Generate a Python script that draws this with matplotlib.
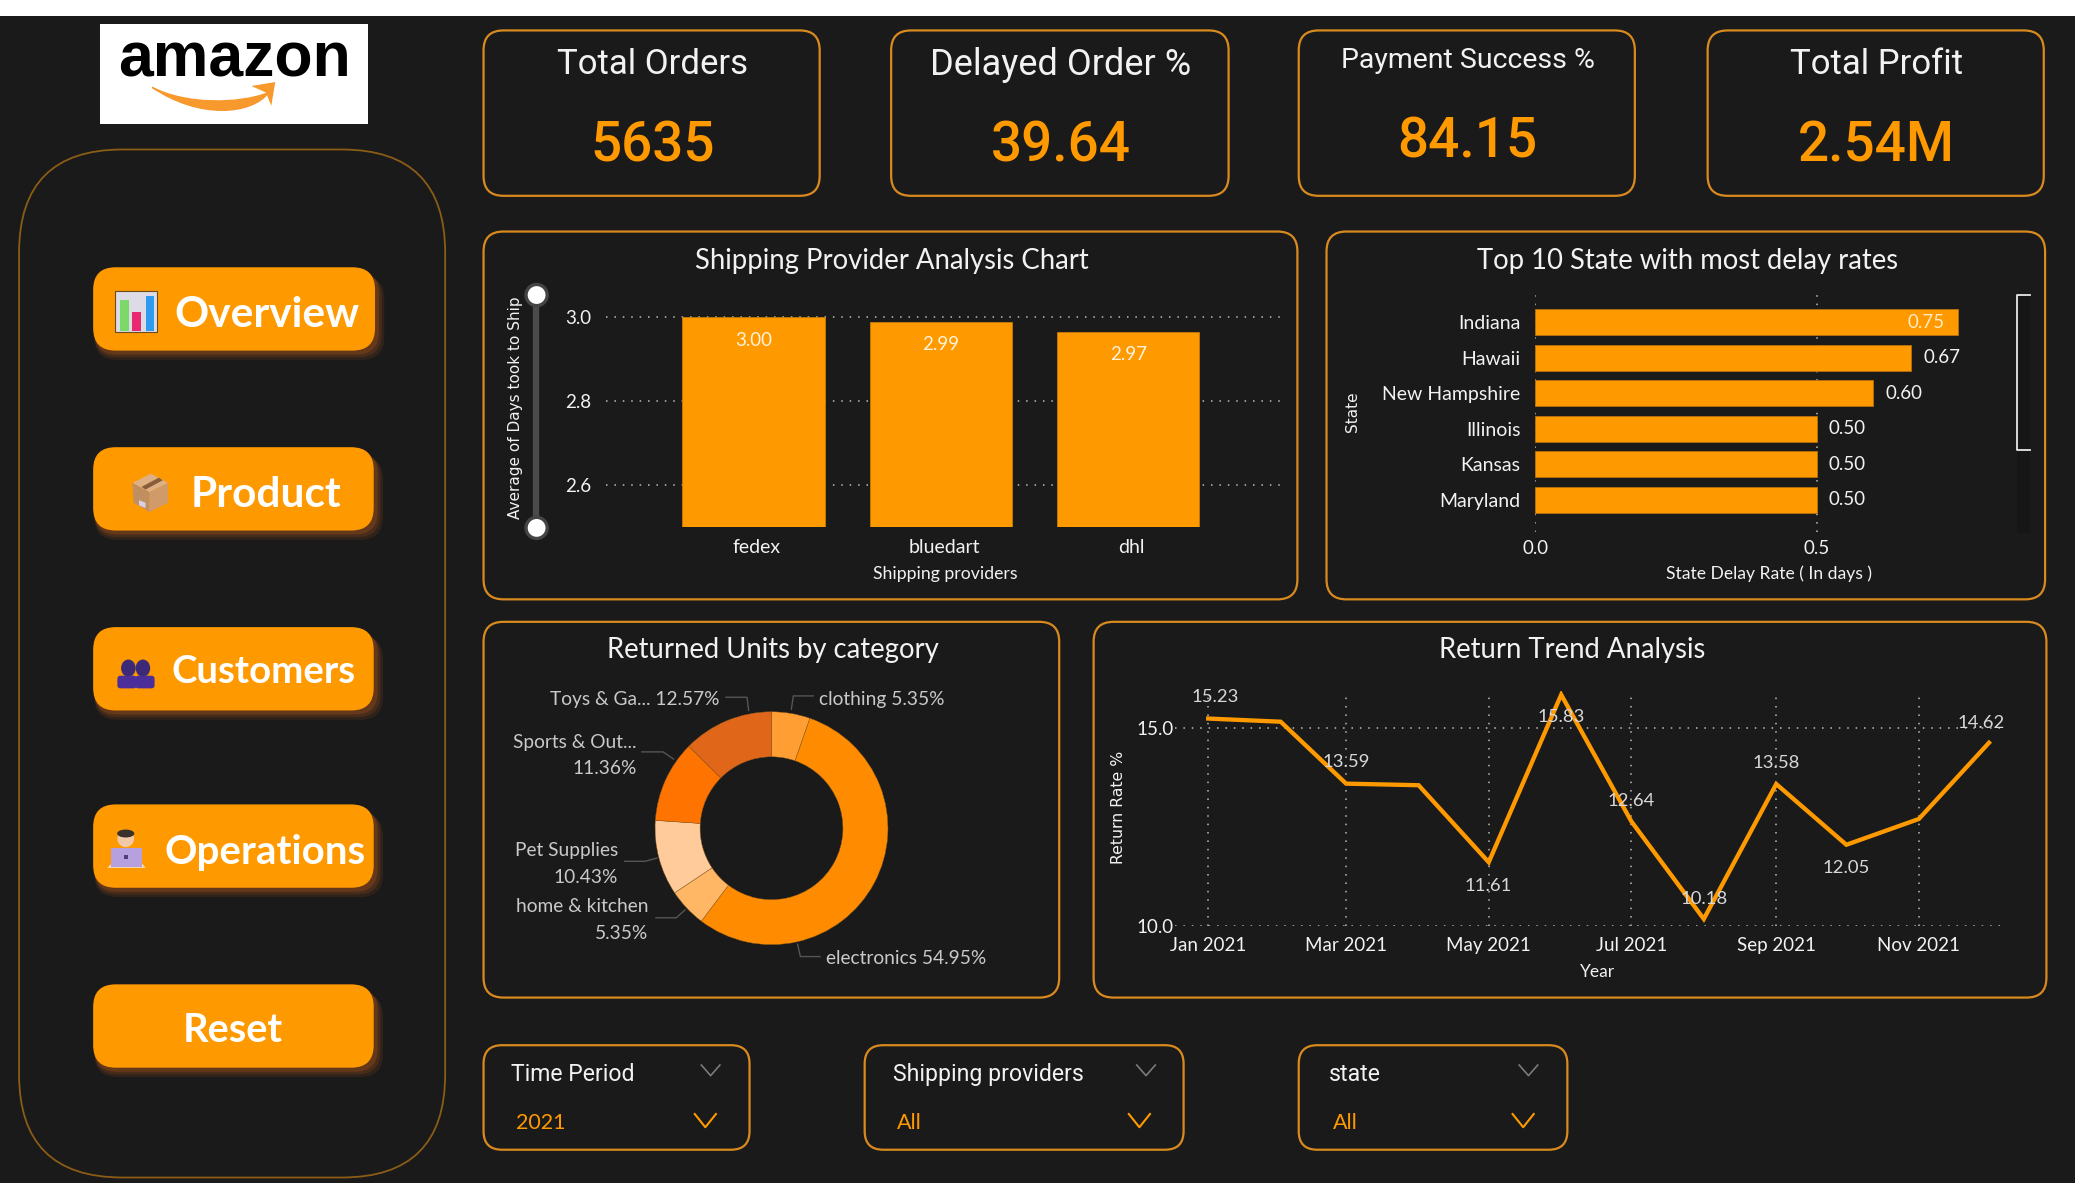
import datetime as dt
import matplotlib
matplotlib.use("Agg")
import matplotlib.pyplot as plt
import matplotlib.dates as mdates
from matplotlib.patches import FancyBboxPatch, Rectangle, Circle, Polygon, PathPatch, Ellipse
from matplotlib.path import Path

# ---- data ----
kpi_titles = ["Total Orders", "Delayed Order %", "Payment Success %", "Total Profit"]
kpi_values = ["5635", "39.64", "84.15", "2.54M"]

providers = ["fedex", "bluedart", "dhl"]
days_to_ship = [3.00, 2.99, 2.966]

states = ["Indiana", "Hawaii", "New Hampshire", "Illinois", "Kansas", "Maryland"]
delay_rates = [0.75, 0.667, 0.60, 0.50, 0.50, 0.50]

categories = ["clothing", "electronics", "home & kitchen", "Pet Supplies", "Sports & Out...", "Toys & Ga..."]
returned_share = [5.35, 54.95, 5.35, 10.43, 11.36, 12.57]
donut_colors = ["#FF9F33", "#FF8C00", "#FFB766", "#FFCB9A", "#FF7300", "#E0661A"]

months = [dt.date(2021, m, 1) for m in range(1, 13)]
return_rate = [15.23, 15.15, 13.59, 13.55, 11.61, 15.83, 12.64, 10.18, 13.58, 12.05, 12.70, 14.62]
labelled = {0: (5, 17), 2: (0, 17), 5: (0, -16), 6: (0, 16), 4: (0, -17), 7: (0, 16),
            8: (0, 17), 9: (0, -17), 11: (-6, 16)}

buttons = ["Overview", "Product", "Customers", "Operations", "Reset"]
slicers = [("Time Period", "2021"), ("Shipping providers", "All"), ("state", "All")]

# ---- style ----
W, H = 1568, 907
BG = "#1A1A1A"
OR = "#FF9900"
EDGE = "#D98A1E"
TXT = "#F2F2F2"
BODY = "Lato"
DIN = "Roboto"
plt.rcParams["font.family"] = [BODY, "DejaVu Sans"]

fig = plt.figure(figsize=(20.75, 12), dpi=100, facecolor="white")
bg = fig.add_axes([0, 0, 1, 1])
bg.set_xlim(0, W)
bg.set_ylim(H, 0)
bg.axis("off")
bg.add_patch(Rectangle((0, 12), W, 882, fc=BG, ec="none"))


def rbox(x0, y0, x1, y1, r, fc="none", ec=EDGE, lw=1.6, z=2, alpha=None):
    p = FancyBboxPatch((x0 + r + 0.4, y0 + r), x1 - x0 - 2 * r, y1 - y0 - 2 * r,
                       boxstyle=f"round,pad={r},rounding_size={r}",
                       fc=fc, ec=ec, lw=lw, zorder=z, alpha=alpha)
    bg.add_patch(p)
    return p


def put(x, y, s, size, color=TXT, ha="center", va="center", **kw):
    return bg.text(x, y + 1, s, fontsize=size, color=color, ha=ha, va=va, zorder=6, **kw)


def chart_axes(x0, y0, x1, y1):
    ax = fig.add_axes([x0 / W, 1 - y1 / H, (x1 - x0) / W, (y1 - y0) / H])
    ax.patch.set_alpha(0)
    for s in ax.spines.values():
        s.set_visible(False)
    ax.tick_params(length=0)
    return ax


DOTS = dict(color="#BDBDBD", lw=1.1, ls=(0, (1, 4.5)))

# ---- logo ----
bg.add_patch(Rectangle((75.4, 18), 203, 76, fc="white", ec="none", zorder=2))
put(177, 44, "amazon", 45, color="black", family="Liberation Sans", weight="bold")
arrow = Path([(115, 66), (140, 79), (180, 79), (203, 70), (190, 87), (150, 90), (115, 66)],
             [Path.MOVETO, Path.CURVE4, Path.CURVE4, Path.CURVE4, Path.CURVE4, Path.CURVE4, Path.CURVE4])
bg.add_patch(PathPatch(arrow, fc="#F7992D", ec="#F7992D", lw=1, zorder=3))
bg.add_patch(Polygon([(190, 65), (208, 62), (205, 80), (201, 70)], fc="#F7992D", ec="none", zorder=3))

# ---- sidebar ----
rbox(14, 113, 336, 890, 78, ec="#8A5C16", lw=1.3)
btn_y = [(202, 265, 283), (338, 401, 282), (474, 537, 282), (608, 671, 282), (744, 807, 282)]
btn_text = [(202, 237, 30.5), (201, 373, 30.5), (199, 507, 27.6), (200, 643, 29), (176, 778, 28.6)]
for (y0, y1, x1), (tx, ty, ts), name in zip(btn_y, btn_text, buttons):
    for i, a in zip((7, 5, 3), (0.16, 0.22, 0.35)):
        rbox(70 + 1, y0 + i, x1 + i, y1 + i, 17, fc="#A0501A", ec="none", z=2, alpha=a)
    rbox(70, y0, x1, y1, 17, fc=OR, ec="none", z=3)
    put(tx, ty, name, ts, color="white", weight="bold")

# Overview icon
bg.add_patch(Rectangle((87, 220), 32, 31, fc="#DDDCE6", ec="#6B4A20", lw=0.8, zorder=5))
bg.add_patch(Rectangle((91, 227), 6.5, 23, fc="#7BD96A", ec="none", zorder=5))
bg.add_patch(Rectangle((100, 236), 6.5, 14, fc="#E9296F", ec="none", zorder=5))
bg.add_patch(Rectangle((110, 224), 6.5, 26, fc="#2D9BEF", ec="none", zorder=5))
# Product icon
bg.add_patch(Polygon([(100, 365), (114, 358), (127, 365), (113, 372)], fc="#DFB083", ec="none", zorder=5))
bg.add_patch(Polygon([(100, 365), (113, 372), (113, 387), (101, 380)], fc="#C08F61", ec="none", zorder=5))
bg.add_patch(Polygon([(113, 372), (127, 365), (127, 380), (113, 387)], fc="#D09B68", ec="none", zorder=5))
bg.add_patch(Polygon([(107, 368), (120, 361), (123, 363), (110, 370)], fc="#8A5D3A", ec="none", zorder=5))
bg.add_patch(Polygon([(105, 378), (110, 380), (110, 384), (105, 382)], fc="#D8CFE0", ec="none", zorder=5))
# Customers icon
for cx, bx in ((97, 96), (108, 109.5)):
    bg.add_patch(Ellipse((cx, 505), 11, 13, fc="#3C2A78", ec="none", zorder=5))
    bg.add_patch(FancyBboxPatch((bx - 5, 513), 10, 5, boxstyle="round,pad=2.3,rounding_size=2.5",
                                fc="#4B2E9A", ec="none", zorder=5))
# Operations icon
bg.add_patch(Polygon([(81, 656), (85, 652), (107, 652), (110, 656)], fc="#F5D5BC", ec="none", zorder=5))
bg.add_patch(Circle((95, 634), 6.3, fc="#F2C9A5", ec="none", zorder=5))
bg.add_patch(Ellipse((95, 630), 13, 6, fc="#3A302C", ec="none", zorder=5))
bg.add_patch(Rectangle((84, 641), 23.5, 14, fc="#B7A0DE", ec="none", zorder=5))
bg.add_patch(Rectangle((94, 646), 3, 3, fc="#4E3F78", ec="none", zorder=5))

# ---- KPI cards ----
card_x = [(365, 619), (673, 928), (981, 1235), (1290, 1544)]
card_ty = [48, 48, 44.5, 48]
card_vy = [108.5, 108.5, 105.5, 108.5]
card_ts = [25, 26, 20.5, 25]
for (x0, x1), t, v, ty, vy, ts in zip(card_x, kpi_titles, kpi_values, card_ty, card_vy, card_ts):
    rbox(x0, 23, x1, 148, 15)
    cx = (x0 + x1) / 2
    put(cx + 1, ty, t, ts, family=DIN)
    put(cx + 1, vy + 1, v, 39.5, color=OR, family=DIN, weight="medium")

# ---- panels ----
rbox(365, 175, 980, 453, 15)
put(674, 196, "Shipping Provider Analysis Chart", 19.8)
rbox(1002, 175, 1545, 453, 15)
put(1275, 196, "Top 10 State with most delay rates", 19.8)
rbox(365, 470, 800, 754, 15)
put(584, 490.5, "Returned Units by category", 19.8)
rbox(826, 470, 1546, 754, 15)
put(1188, 490.5, "Return Trend Analysis", 19.8)

# ---- shipping bars ----
ax = chart_axes(458, 235.7, 970, 398.7)
xp = range(len(providers))
ax.bar(xp, days_to_ship, width=0.76, color=OR, zorder=3, edgecolor="#C77A08", lw=0.6)
ax.set_xlim(-0.788, 2.83)
ax.set_ylim(2.5, 2.5 + 163 / 317.5)
ax.set_yticks([2.6, 2.8, 3.0], ["2.6", "2.8", "3.0"], fontsize=13.5, color=TXT)
ax.tick_params(axis="y", pad=10.5)
ax.set_xticks([])
ax.grid(axis="y", zorder=0, **DOTS)
ax.set_axisbelow(True)
for i, (p, v) in enumerate(zip(providers, days_to_ship)):
    ax.annotate(f"{v:.2f}", (i, v), xytext=(0, -23), textcoords="offset pixels",
                ha="center", va="center", color="#FFF3DC", fontsize=13.5, zorder=5)
    ax.annotate(p, (i, 2.5), xytext=(3, -20), textcoords="offset pixels", ha="center", va="center",
                color=TXT, fontsize=14, annotation_clip=False)
put(714, 433, "Shipping providers", 12.7)
put(389.5, 307, "Average of Days took to Ship", 11, rotation=90, family="DejaVu Sans")
bg.plot([405, 405], [222, 399], color="#4A4A4A", lw=4.5, zorder=4, solid_capstyle="round")
for y in (223, 399):
    bg.add_patch(Circle((405.5, y), 8, fc="white", ec="#444444", lw=2.4, zorder=5))

# ---- state bars ----
ax = chart_axes(1160, 222, 1515, 402)
ypos = range(len(states))
ax.barh(ypos, delay_rates, height=0.73, color=OR, zorder=3, edgecolor="#B87008", lw=0.6)
ax.set_xlim(0, 355 / 426)
ax.set_ylim(5.9, -0.80)
ax.set_yticks(list(ypos), states, fontsize=14, color=TXT)
ax.tick_params(axis="y", pad=10.5)
ax.set_xticks([0, 0.5], ["0.0", "0.5"], fontsize=13.5, color=TXT)
ax.tick_params(axis="x", pad=6)
ax.grid(axis="x", zorder=0, **DOTS)
ax.set_axisbelow(True)
for i, v in enumerate(delay_rates):
    if v > 0.7:
        ax.annotate(f"{v:.2f}", (v, i), xytext=(-13, 0), textcoords="offset pixels", ha="right",
                    va="center", color="#FFE9C4", fontsize=13.5, zorder=5)
    else:
        ax.annotate(f"{v:.2f}", (v, i), xytext=(12, 0), textcoords="offset pixels", ha="left",
                    va="center", color=TXT, fontsize=13.5, zorder=5)
put(1337, 433, "State Delay Rate ( In days )", 12.6)
put(1022, 310, "State", 11, rotation=90, family="DejaVu Sans")
bg.add_patch(Rectangle((1524, 223), 10, 180, fc="#161616", ec="none", zorder=3))
bg.plot([1534, 1524.5, 1524.5, 1534], [223, 223, 340, 340], color="#E8E8E8", lw=1.3, zorder=4)

# ---- donut ----
ax = chart_axes(485, 528, 681, 724)
ax.pie(returned_share, colors=donut_colors, startangle=90, counterclock=False, radius=1,
       wedgeprops=dict(width=34 / 88, edgecolor="#8A5A20", linewidth=0.3))
ax.set_xlim(-98 / 88, 98 / 88)
ax.set_ylim(-98 / 88, 98 / 88)
LAB = "#C9C9C9"
leaders = [[(548.6, 527), (564.5, 527), (565.7, 537)],
           [(614.5, 526), (599.5, 526), (598, 536)],
           [(485, 568.3), (501, 568.3), (509, 573.7)],
           [(472, 651), (487.5, 651), (496.3, 648.6)],
           [(495.7, 693.7), (511, 693.7), (517.7, 687.7)],
           [(619.7, 723), (604.8, 723), (602.7, 713.6)]]
for pts in leaders:
    bg.plot(*zip(*pts), color="#555555", lw=1, zorder=4)
FS = 13.8
put(544, 528, f"{categories[5]} {returned_share[5]:.2f}%", FS, color=LAB, ha="right")
put(619, 527.5, f"{categories[0]} {returned_share[0]:.2f}%", FS, color=LAB, ha="left")
put(481, 560, categories[4], FS, color=LAB, ha="right")
put(481, 579.5, f"{returned_share[4]:.2f}%", FS, color=LAB, ha="right")
put(467, 642, categories[3], FS, color=LAB, ha="right")
put(467, 662, f"{returned_share[3]:.2f}%", FS, color=LAB, ha="right")
put(490, 684, categories[2], FS, color=LAB, ha="right")
put(490, 704.5, f"{returned_share[2]:.2f}%", FS, color=LAB, ha="right")
put(624, 723.5, f"{categories[1]} {returned_share[1]:.2f}%", FS, color=LAB, ha="left")

# ---- trend line ----
ax = chart_axes(888, 522, 1515, 700)
dates = mdates.date2num(months)
d0 = dates[0]
per_day = 537 / 304
ax.plot(dates, return_rate, color=OR, lw=3.1, zorder=3, solid_joinstyle="miter")
ax.set_xlim(d0 - 25 / per_day, d0 + 602 / per_day)
ax.set_ylim(10, 10 + 178 / 30)
ax.set_yticks([10, 15], ["10.0", "15.0"], fontsize=13.5, color=TXT)
ax.tick_params(axis="y", pad=1)
tick_idx = range(0, 12, 2)
ax.set_xticks([dates[i] for i in tick_idx], [months[i].strftime("%b %Y") for i in tick_idx],
              fontsize=13.5, color=TXT)
ax.tick_params(axis="x", pad=7.5)
ax.grid(True, zorder=0, **DOTS)
ax.set_axisbelow(True)
for i, (ox, oy) in labelled.items():
    ax.annotate(f"{return_rate[i]:.2f}", (dates[i], return_rate[i]), xytext=(ox * 1.3233, oy * 1.3233 - 1),
                textcoords="offset pixels", ha="center", va="center", color="#D8D8D8", fontsize=13.3,
                zorder=5, annotation_clip=False)
put(1207, 734, "Year", 12.5)
put(845.5, 609, "Return Rate %", 11.3, rotation=90, family="DejaVu Sans")

# ---- slicers ----
sl_x = [(365, 566, 386, 537, 390, 533), (653, 894, 675, 866, 678, 861), (981, 1184, 1004, 1155, 1007, 1151)]
for (x0, x1, lx, c1, vx, c2), (name, val) in zip(sl_x, slicers):
    rbox(x0, 790, x1, 869, 14)
    put(lx, 811.5, name, 16.6, ha="left", family=DIN)
    put(vx, 848, val, 15.5, color=OR, ha="left")
    bg.plot([c1 - 7, c1, c1 + 7], [805, 813, 805], color="#7A7A7A", lw=1.2, zorder=5)
    bg.plot([c2 - 8, c2, c2 + 8], [842, 852, 842], color=OR, lw=1.5, zorder=5)

fig.savefig("out.png", dpi=100, facecolor="white")
